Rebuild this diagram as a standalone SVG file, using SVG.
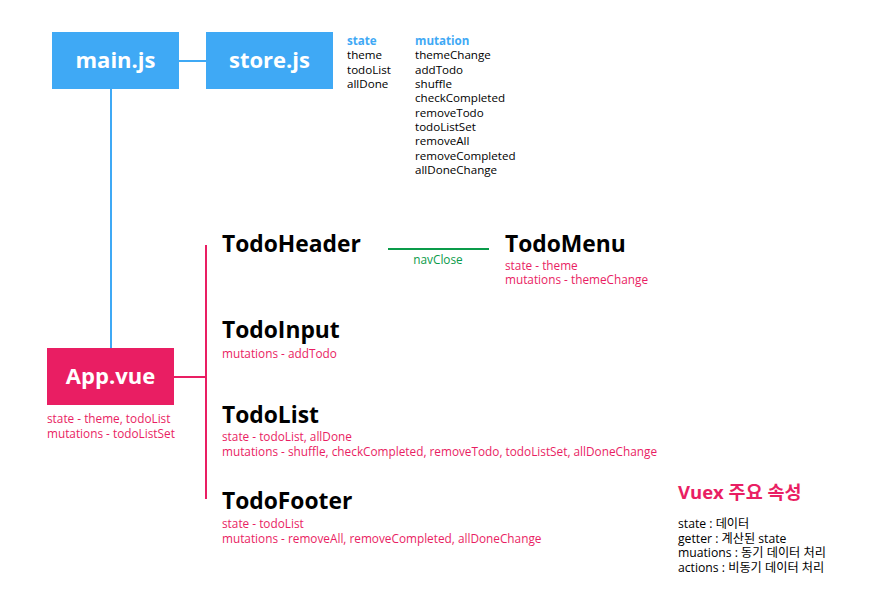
<svg xmlns="http://www.w3.org/2000/svg" width="871" height="606" viewBox="0 0 871 606">
<style>
text{font-family:"Open Sans","Noto Sans","Noto Sans CJK KR",sans-serif}
.box-t{fill:#fff;font-weight:bold;font-size:22px;text-anchor:middle}
.h{fill:#000;font-weight:bold;font-size:22.8px}
.p{fill:#e91e63;font-size:11.8px}
.k{fill:#000;font-size:11.6px}
.kr{fill:#000;font-size:12.2px}
.b{fill:#3fa9f5;font-size:11.6px;font-weight:bold}
.blue{stroke:#3fa9f5;stroke-width:2;fill:none}
.pink{stroke:#e91e63;stroke-width:2;fill:none}
</style>
<rect width="871" height="606" fill="#fff"/>
<g id="connectors">
<line class="blue" x1="179" y1="61" x2="206" y2="61"/>
<line class="blue" x1="111" y1="89" x2="111" y2="348"/>
<line class="pink" x1="174" y1="377" x2="206" y2="377"/>
<line class="pink" x1="206" y1="245" x2="206" y2="499"/>
<line stroke="#0a9b4a" stroke-width="2" x1="388" y1="249" x2="489" y2="249"/>
<text x="438" y="264" fill="#0a9b4a" font-size="11.8" text-anchor="middle">navClose</text>
</g>
<g id="main">
<rect x="52" y="32" width="127" height="57" fill="#3fa9f5"/>
<text class="box-t" x="115.5" y="68">main.js</text>
</g>
<g id="store">
<rect x="206" y="32" width="127" height="57" fill="#3fa9f5"/>
<text class="box-t" x="269.5" y="68">store.js</text>
</g>
<g id="store-state">
<text class="b" x="347" y="45">state</text>
<text class="k" x="347" y="59">theme</text>
<text class="k" x="347" y="74">todoList</text>
<text class="k" x="347" y="88">allDone</text>
</g>
<g id="store-mutation">
<text class="b" x="415" y="45">mutation</text>
<text class="k" x="415" y="59.3">themeChange</text>
<text class="k" x="415" y="73.7">addTodo</text>
<text class="k" x="415" y="88">shuffle</text>
<text class="k" x="415" y="102.3">checkCompleted</text>
<text class="k" x="415" y="116.7">removeTodo</text>
<text class="k" x="415" y="131">todoListSet</text>
<text class="k" x="415" y="145.3">removeAll</text>
<text class="k" x="415" y="159.7">removeCompleted</text>
<text class="k" x="415" y="174">allDoneChange</text>
</g>
<g id="app">
<rect x="47" y="348" width="127" height="57" fill="#e91e63"/>
<text class="box-t" x="110.5" y="384">App.vue</text>
<text class="p" x="47" y="423">state - theme, todoList</text>
<text class="p" x="47" y="438">mutations - todoListSet</text>
</g>
<g id="todoheader">
<text class="h" x="222" y="252">TodoHeader</text>
</g>
<g id="todomenu">
<text class="h" x="505" y="252">TodoMenu</text>
<text class="p" x="505" y="270">state - theme</text>
<text class="p" x="505" y="284">mutations - themeChange</text>
</g>
<g id="todoinput">
<text class="h" x="222" y="338">TodoInput</text>
<text class="p" x="222" y="358">mutations - addTodo</text>
</g>
<g id="todolist">
<text class="h" x="222" y="423">TodoList</text>
<text class="p" x="222" y="441">state - todoList, allDone</text>
<text class="p" x="222" y="456">mutations - shuffle, checkCompleted, removeTodo, todoListSet, allDoneChange</text>
</g>
<g id="todofooter">
<text class="h" x="222" y="509">TodoFooter</text>
<text class="p" x="222" y="528">state - todoList</text>
<text class="p" x="222" y="543">mutations - removeAll, removeCompleted, allDoneChange</text>
</g>
<g id="vuex">
<text x="678" y="499" fill="#e91e63" font-size="18.5" font-weight="bold">Vuex 주요 속성</text>
<text class="kr" x="678" y="528">state : 데이터</text>
<text class="kr" x="678" y="543">getter : 계산된 state</text>
<text class="kr" x="678" y="557">muations : 동기 데이터 처리</text>
<text class="kr" x="678" y="572">actions : 비동기 데이터 처리</text>
</g>
</svg>
